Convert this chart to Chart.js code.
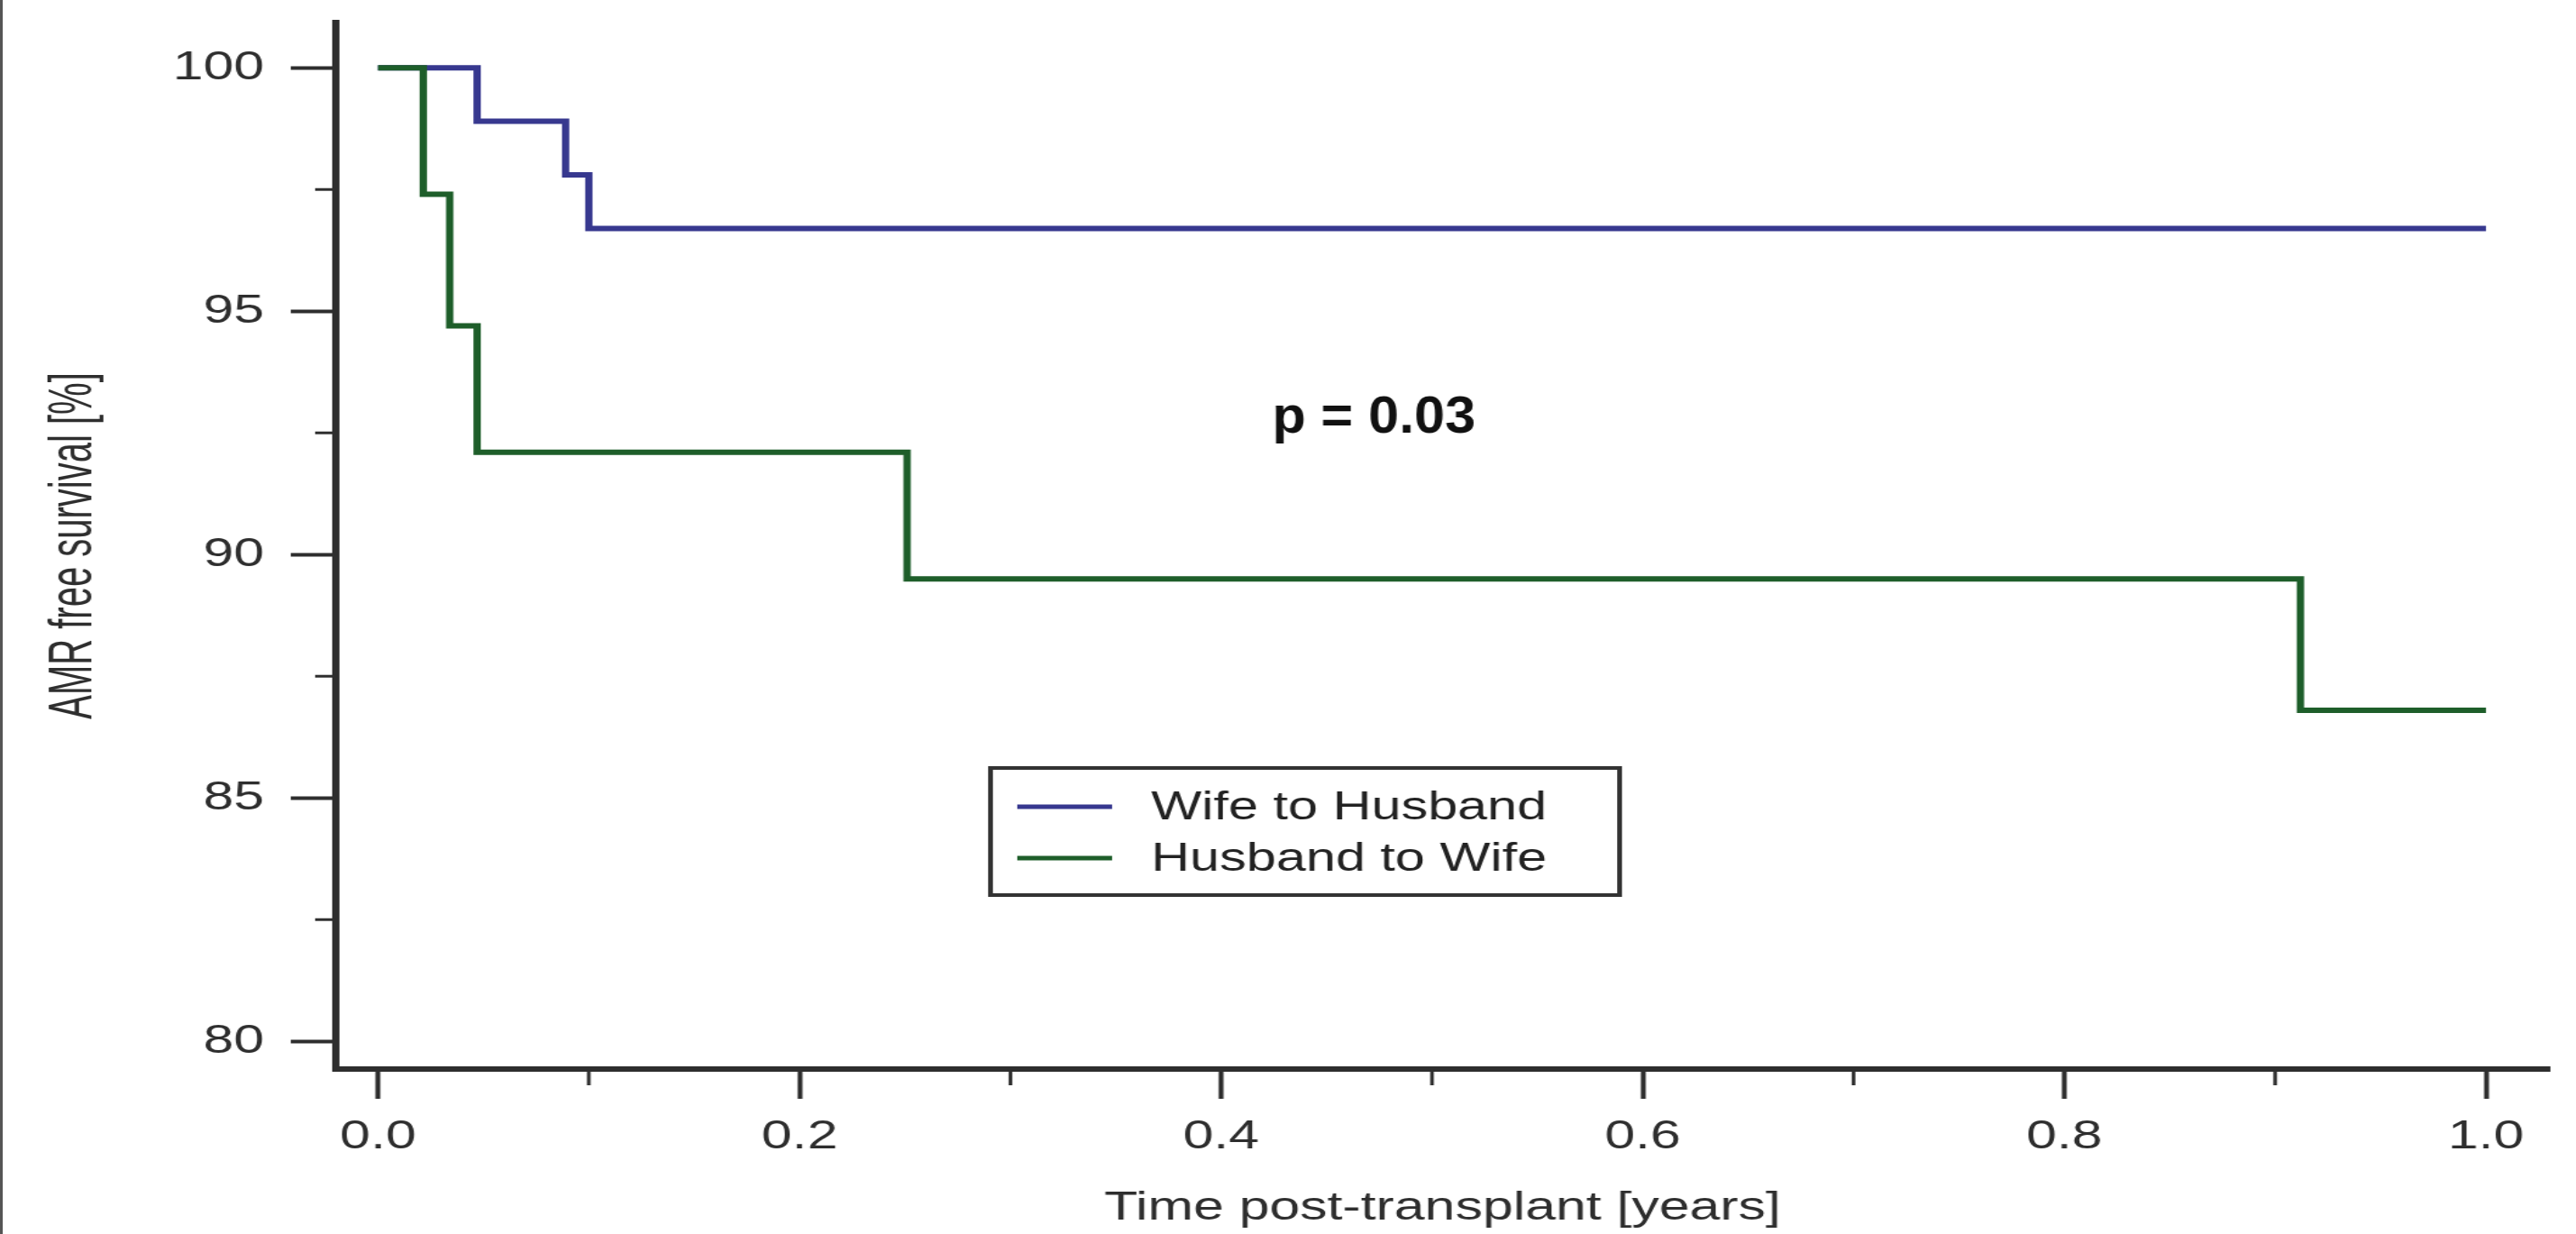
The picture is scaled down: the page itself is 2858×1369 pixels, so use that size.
<!DOCTYPE html>
<html>
<head>
<meta charset="utf-8">
<title>AMR free survival</title>
<script src="https://cdn.jsdelivr.net/npm/chart.js@4.4.1/dist/chart.umd.min.js"></script>
<style>
  html, body { margin: 0; padding: 0; background: #fff; overflow: hidden; }
  /* the original figure is stretched sideways, so the chart is drawn narrower and scaled out */
  #wrap { position: absolute; left: 0; top: 0; width: 2117px; height: 1369px; transform: scaleX(1.35); transform-origin: 0 0; }
  #edge { position: absolute; left: 0; top: 0; width: 3px; height: 1369px; background: #555; }
</style>
</head>
<body>
<div id="wrap"><canvas id="km"></canvas></div>
<div id="edge"></div>
<script>
// Kaplan-Meier steps
const wifeTimes = [0, 0.047, 0.089, 0.100, 1.0];
const wifeSurvival = [100, 98.9, 97.8, 96.7, 96.7];
const husbandTimes = [0, 0.0215, 0.034, 0.047, 0.251, 0.912, 1.0];
const husbandSurvival = [100, 97.4, 94.7, 92.1, 89.5, 86.8, 86.8];
const seriesLabels = ['Wife to Husband', 'Husband to Wife'];

const xTicks = [0, 0.2, 0.4, 0.6, 0.8, 1.0];
const xMinorTicks = [0.1, 0.3, 0.5, 0.7, 0.9];
const yTicks = [80, 85, 90, 95, 100];
const yMinorTicks = [82.5, 87.5, 92.5, 97.5];

const xTitle = 'Time post-transplant [years]';
const yTitle = 'AMR free survival [%]';
const pValueText = 'p = 0.03';

const FONT = "'Liberation Sans', Arial, sans-serif";
const INK = '#2e2e2e';

const toPoints = (xs, ys) => xs.map((x, i) => ({ x: x, y: ys[i] }));

// minor ticks, y title, p value and the boxed legend
const extras = {
  id: 'extras',
  afterDraw(chart) {
    const ctx = chart.ctx;
    const area = chart.chartArea;
    const xs = chart.scales.x;
    const ys = chart.scales.y;
    ctx.save();
    ctx.strokeStyle = INK;
    ctx.lineWidth = 3;
    xMinorTicks.forEach(v => {
      const px = xs.getPixelForValue(v);
      ctx.beginPath();
      ctx.moveTo(px, area.bottom);
      ctx.lineTo(px, area.bottom + 18);
      ctx.stroke();
    });
    yMinorTicks.forEach(v => {
      const py = ys.getPixelForValue(v);
      ctx.beginPath();
      ctx.moveTo(area.left - 17, py);
      ctx.lineTo(area.left, py);
      ctx.stroke();
    });

    // y axis title, condensed
    ctx.fillStyle = INK;
    ctx.font = '50px ' + FONT;
    ctx.textAlign = 'center';
    ctx.textBaseline = 'middle';
    ctx.save();
    ctx.translate(61, (area.top + area.bottom) / 2);
    ctx.rotate(-Math.PI / 2);
    ctx.scale(0.8, 1);
    ctx.fillText(yTitle, 0, 0);
    ctx.restore();

    // p value
    ctx.save();
    ctx.fillStyle = '#111';
    ctx.font = 'bold 58px ' + FONT;
    ctx.textBaseline = 'alphabetic';
    ctx.translate(1129, 480);
    ctx.scale(0.78, 1);
    ctx.fillText(pValueText, 0, 0);
    ctx.restore();

    // legend box
    const box = { left: 814, top: 852, right: 1331, bottom: 993 };
    ctx.lineWidth = 4;
    ctx.strokeStyle = '#333';
    ctx.strokeRect(box.left, box.top, box.right - box.left, box.bottom - box.top);
    ctx.font = '44px ' + FONT;
    ctx.textAlign = 'left';
    ctx.textBaseline = 'middle';
    chart.data.datasets.forEach((ds, i) => {
      const y = 895 + i * 57;
      ctx.strokeStyle = ds.borderColor;
      ctx.lineWidth = 5;
      ctx.beginPath();
      ctx.moveTo(836, y);
      ctx.lineTo(914, y);
      ctx.stroke();
      ctx.fillStyle = '#222';
      ctx.fillText(ds.label, 946, y + 2);
    });
    ctx.restore();
  }
};

new Chart(document.getElementById('km'), {
  type: 'line',
  data: {
    datasets: [
      {
        label: seriesLabels[0],
        data: toPoints(wifeTimes, wifeSurvival),
        borderColor: '#37388f',
        borderWidth: 6,
        stepped: true,
        pointRadius: 0,
        fill: false,
        order: 1
      },
      {
        label: seriesLabels[1],
        data: toPoints(husbandTimes, husbandSurvival),
        borderColor: '#1e5e2a',
        borderWidth: 6,
        stepped: true,
        pointRadius: 0,
        fill: false,
        order: 0
      }
    ]
  },
  options: {
    responsive: true,
    maintainAspectRatio: false,
    animation: false,
    layout: { padding: { top: 25, right: 22, left: 0, bottom: 0 } },
    plugins: {
      legend: { display: false },
      tooltip: { enabled: false }
    },
    scales: {
      x: {
        type: 'linear',
        min: -0.02,
        max: 1.03,
        afterBuildTicks: s => { s.ticks = xTicks.map(v => ({ value: v })); },
        afterFit: s => { s.height = 183; s.paddingLeft = 0; s.paddingRight = 0; },
        ticks: {
          callback: v => v.toFixed(1),
          font: { family: FONT, size: 45 },
          color: INK,
          padding: 16,
          maxRotation: 0
        },
        grid: { drawOnChartArea: false, drawTicks: true, tickLength: 33, tickWidth: 4, tickColor: INK },
        border: { display: true, color: INK, width: 6 },
        title: {
          display: true,
          text: xTitle,
          font: { family: FONT, size: 45 },
          color: INK,
          padding: { top: 0, bottom: 1 }
        }
      },
      y: {
        type: 'linear',
        min: 79.43,
        max: 100.93,
        afterBuildTicks: s => { s.ticks = yTicks.map(v => ({ value: v })); },
        afterFit: s => { s.width = 276; s.paddingTop = 0; s.paddingBottom = 0; },
        ticks: {
          font: { family: FONT, size: 45 },
          color: INK,
          padding: 22
        },
        grid: { drawOnChartArea: false, drawTicks: true, tickLength: 37, tickWidth: 4, tickColor: INK },
        border: { display: true, color: INK, width: 6 }
      }
    }
  },
  plugins: [extras]
});
</script>
</body>
</html>
